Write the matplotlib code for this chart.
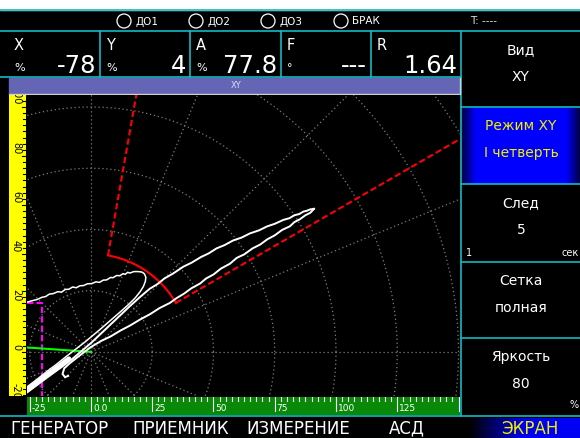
import numpy as np
import matplotlib
matplotlib.use("Agg")
import matplotlib.pyplot as plt
from matplotlib.patches import Rectangle, Circle

W, H = 580, 438

# top indicator bar
indicator_names = ["ДО1", "ДО2", "ДО3", "БРАК"]
indicator_x = [124, 196, 268, 341]

# readout boxes
readout_names = ["X", "Y", "A", "F", "R"]
readout_units = ["%", "%", "%", "°", ""]
readout_values = ["-78", "4", "77.8", "---", "1.64"]
readout_edges = [8, 100, 190, 281, 371, 461]

# right side menu
side_titles = ["Вид", "Режим XY", "След", "Сетка", "Яркость"]
side_values = ["XY", "I четверть", "5", "полная", "80"]
side_edges = [31, 107, 184, 262, 338, 415]

# bottom menu
menu_items = ["ГЕНЕРАТОР", "ПРИЕМНИК", "ИЗМЕРЕНИЕ", "АСД", "ЭКРАН"]
menu_x = [59, 181, 298, 407, 530]

# axes of the XY plane
x_ticks = [-25, 0, 25, 50, 75, 100, 125, 150]
x_tick_labels = ["-25", "0.0", "25", "50", "75", "100", "125", "150"]
y_ticks = [-20, 0, 20, 40, 60, 80, 100]
grid_radii = [25, 50, 75, 100, 125, 150, 175]
grid_angles = [0, 22.5, 45, 67.5, 90, 112.5, 135, 157.5,
               180, 202.5, 225, 247.5, 270, 292.5, 315, 337.5]

# alarm zone, phase line, gate
zone_radius = 40
zone_angles = [30, 80]
phase_angle = 176
gate_x, gate_y = -20, 20

# signal traces
hook_x = [-26.5, -24, -22, -20, -18.5, -17, -15.4, -13.5, -12, -10.5, -9,
          -7.5, -6, -4.5, -3, -1.5, 0.3, 2, 3.5, 5, 6.4, 8, 9, 10.5, 11.8, 13,
          14, 15, 15.9, 17.5, 19.3, 20.8, 21.8, 22.4, 22.2, 21.4, 20.0, 18.0,
          15.5, 12.5, 9.5, 6.5, 3.5, 0.5, -2.5, -6, -10, -14, -18, -22, -26.5]
hook_y = [20.2, 20.9, 21.4, 22.3, 22.6, 23.6, 23.8, 24.6, 24.4, 25.5, 25.6,
          26.5, 26.2, 27.0, 27.1, 27.8, 27.9, 28.6, 28.4, 29.3, 29.4, 30.4,
          30.3, 31.2, 31.1, 31.9, 31.7, 32.5, 32.2, 32.8, 32.8, 32.6, 31.9,
          30.5, 28.8, 26.7, 24.5, 22.0, 19.5, 16.8, 14.2, 11.6, 9.0, 6.5, 4.0,
          1.3, -1.8, -5.0, -8.0, -11.2, -14.6]
upper_x = [-27, -22, -17, -12, -8, -4, 0, 4, 8, 12, 16, 20, 24, 27, 30, 33.5,
           37.7, 41, 45, 48, 51.3, 54.5, 58, 61.5, 64.9, 68.5, 72, 75, 78.5,
           81, 83, 85, 86.7, 88, 89.5, 91]
upper_y = [-17.2, -13.5, -9.8, -6.2, -3.2, 0.2, 3.6, 7.4, 11.2, 15.0, 18.8,
           22.4, 25.8, 27.6, 30.0, 32.0, 34.8, 36.4, 38.8, 40.2, 42.3, 43.6,
           45.5, 46.7, 48.4, 49.6, 51.3, 52.3, 53.9, 54.6, 55.8, 56.3, 57.3,
           57.6, 58.2, 58.4]
lower_x = [91, 89.5, 87.5, 85.3, 83, 81.2, 78, 75, 72, 69, 66, 62.5, 59.5,
           56.7, 53, 50, 47, 44.5, 41, 38, 35, 32.2, 28, 24.1, 20, 16, 12, 8,
           4, 0, -4, -8.6, -10.9, -11.6, -10.6, -9.3]
lower_y = [58.4, 56.8, 55.8, 54.2, 53.0, 51.3, 49.8, 47.6, 46.0, 43.8, 42.3,
           39.8, 38.4, 36.0, 34.0, 31.6, 30.0, 27.9, 26.0, 23.8, 22.0, 20.0,
           17.9, 15.4, 13.2, 10.8, 8.7, 6.3, 4.4, 2.0, -1.0, -4.6, -6.7, -9.0,
           -10.3, -9.8]
band_x = [-26.5, -18, -9]
band_y = [-16.0, -9.5, -2.8]

CYAN = "#14b8c4"
GRID = "#7c7c7c"

fig = plt.figure(figsize=(W / 100, H / 100), dpi=100, facecolor="black")


def px_axes(x0, y0, x1, y1):
    return fig.add_axes([x0 / W, 1 - y1 / H, (x1 - x0) / W, (y1 - y0) / H])


# ---- screen chrome, drawn in pixel coordinates
ax0 = fig.add_axes([0, 0, 1, 1])
ax0.set_facecolor("black")
ax0.add_patch(Rectangle((0, 0), W, 10, color="white", zorder=1))

# blue gradient panels
cols = np.arange(462, 580) + 0.5
t = np.clip(np.minimum(cols - 462, 580 - cols) / 14.0, 0, 1)
panel = np.zeros((1, len(cols), 3))
panel[0, :, 2] = 0.25 + 0.75 * t
ax0.imshow(panel, extent=(462, 580, 184, 108), aspect="auto", zorder=1)
t2 = np.clip((cols - 470) / 55.0, 0, 1)
panel2 = np.zeros((1, len(cols), 3))
panel2[0, :, 2] = 0.95 * t2
ax0.imshow(panel2, extent=(462, 580, 438, 418), aspect="auto", zorder=1)

# cyan frame lines
for y in [10, 31, 416]:
    ax0.plot([0, W], [y, y], color=CYAN, lw=1.2, zorder=3)
ax0.plot([0, 461], [77, 77], color=CYAN, lw=1.2, zorder=3)
for x in readout_edges[1:-1]:
    ax0.plot([x, x], [31, 77], color=CYAN, lw=1.2, zorder=3)
ax0.plot([461, 461], [31, 416], color=CYAN, lw=1.2, zorder=3)
for y in side_edges[1:-1]:
    ax0.plot([461, W], [y, y], color=CYAN, lw=1.2, zorder=3)

# indicators
for name, cx in zip(indicator_names, indicator_x):
    ax0.add_patch(Circle((cx, 21), 7, fill=False, ec="white", lw=0.9, zorder=3))
    ax0.text(cx + 11, 21.5, name, color="white", fontsize=7.5, ha="left", va="center")
ax0.text(470, 21.5, "T: ----", color="#e0e0e0", fontsize=7.5, ha="left", va="center")

# readouts
for i in range(5):
    left, right = readout_edges[i], readout_edges[i + 1]
    ax0.text(left + 6, 45, readout_names[i], color="white", fontsize=10.5,
             ha="left", va="center")
    ax0.text(left + 6, 68, readout_units[i], color="white", fontsize=8,
             ha="left", va="center")
    ax0.text(right - 4, 73, readout_values[i], color="white", fontsize=17.5,
             ha="right", va="baseline")

# lavender title bar
ax0.add_patch(Rectangle((9, 78), 451, 15, color="#6565b5", zorder=2))
ax0.plot([9, 460, 460], [93.5, 93.5, 78], color="#d0d0d0", lw=1, zorder=3)
ax0.text(236, 85.5, "XY", color="#dcdcf2", fontsize=6, ha="center", va="center")

# side menu texts
for i in range(5):
    y0, y1 = side_edges[i], side_edges[i + 1]
    c = "#f0f000" if i == 1 else "white"
    ax0.text(521, y0 + 19, side_titles[i], color=c, fontsize=10, ha="center", va="center")
    ax0.text(521, y0 + 46, side_values[i], color=c, fontsize=10, ha="center", va="center")
ax0.text(466, 253, "1", color="white", fontsize=7, ha="left", va="center")
ax0.text(562, 253, "сек", color="white", fontsize=7, ha="left", va="center")
ax0.text(569, 405, "%", color="white", fontsize=7, ha="left", va="center")

# bottom menu
for name, mx in zip(menu_items, menu_x):
    c = "#f0f000" if name == "ЭКРАН" else "white"
    ax0.text(mx, 428.5, name, color=c, fontsize=12, ha="center", va="center")

ax0.set_xlim(0, W)
ax0.set_ylim(H, 0)
ax0.axis("off")

# ---- XY plane
x_lo, x_hi = -26.1, 150.6
y_lo, y_hi = -18.0, 104.9
ax = px_axes(27, 95, 460, 396)
ax.set_facecolor("black")
ax.set_xlim(x_lo, x_hi)
ax.set_ylim(y_lo, y_hi)
ax.set_xticks([])
ax.set_yticks([])
for s in ax.spines.values():
    s.set_visible(False)

theta = np.radians(np.linspace(0, 360, 721))
for r in grid_radii:
    ax.plot(r * np.cos(theta), r * np.sin(theta), color=GRID, lw=0.9,
            ls=(0, (1, 2.2)))
for a in grid_angles:
    ar = np.radians(a)
    ax.plot([0, 300 * np.cos(ar)], [0, 300 * np.sin(ar)], color=GRID, lw=0.9,
            ls=(0, (1, 2.2)))

# alarm zone
arc = np.radians(np.linspace(zone_angles[0], zone_angles[1], 60))
ax.plot(zone_radius * np.cos(arc), zone_radius * np.sin(arc), color="#ff0000", lw=1.5)
for a in zone_angles:
    ar = np.radians(a)
    ax.plot([zone_radius * np.cos(ar), 300 * np.cos(ar)],
            [zone_radius * np.sin(ar), 300 * np.sin(ar)],
            color="#ff0000", lw=1.5, ls=(0, (3, 1.5)))

# gate
ax.plot([-40, gate_x, gate_x], [gate_y, gate_y, -40], color="#ff00ff", lw=1.5,
        ls=(0, (3, 1.5)))

# phase line
pa = np.radians(phase_angle)
ax.plot([0, 60 * np.cos(pa)], [0, 60 * np.sin(pa)], color="#00ff00", lw=1.5)

# traces
ax.plot(hook_x, hook_y, color="white", lw=1.1, solid_joinstyle="miter")
ax.plot(upper_x, upper_y, color="white", lw=1.4, solid_joinstyle="miter")
ax.plot(lower_x, lower_y, color="white", lw=1.4, solid_joinstyle="miter")
ax.plot(band_x, band_y, color="white", lw=3.5, solid_capstyle="round")

# ---- vertical ruler (yellow)
ry = px_axes(9, 95, 26, 396)
ry.set_xlim(0, 17)
ry.set_ylim(y_lo, y_hi)
ry.axis("off")
ry.add_patch(Rectangle((0, y_lo), 17, y_hi - y_lo, color="#ffff00", zorder=0))
for v in np.arange(-17.5, 105, 2.5):
    major = v in y_ticks
    ry.plot([12.5 if major else 14.3, 17], [v, v], color="black", lw=0.8)
for v in y_ticks:
    ry.text(7, v + 0.8, str(v), rotation=-90, color="black", fontsize=7,
            ha="center", va="bottom", clip_on=True)

# ---- horizontal ruler (green)
rx = px_axes(27, 397, 460, 415)
rx.set_xlim(x_lo, x_hi)
rx.set_ylim(18, 0)
rx.axis("off")
rx.add_patch(Rectangle((x_lo, 0), x_hi - x_lo, 18, color="#088a08", zorder=0))
for v in np.arange(-25, 151, 2.5):
    major = v in x_ticks
    rx.plot([v, v], [0, 14 if major else 3.5], color="white", lw=0.8)
for v, lab in zip(x_ticks, x_tick_labels):
    rx.text(v + 0.8, 16, lab, color="white", fontsize=6.5, ha="left",
            va="bottom", clip_on=True)

fig.savefig("out.png", dpi=100, facecolor="black")
